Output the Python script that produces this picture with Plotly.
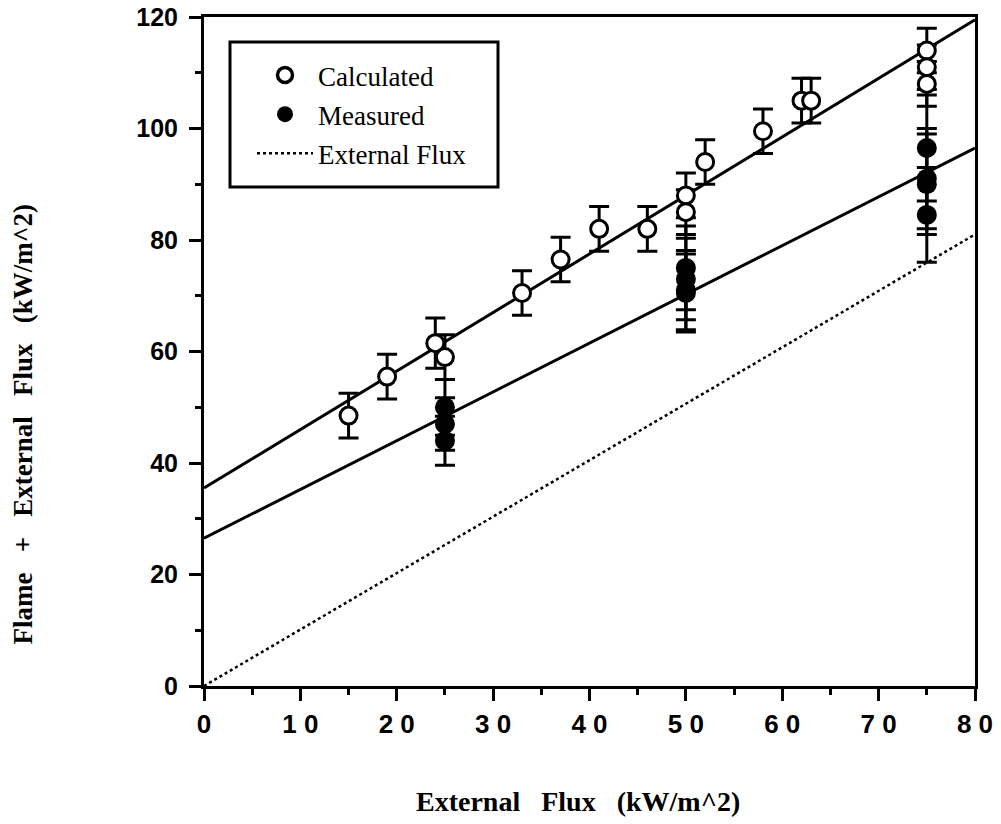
import plotly.graph_objects as go

# Calculated (open circles)
calc_x = [15, 19, 24, 25, 33, 37, 41, 46, 50, 50, 52, 58, 62, 63, 75, 75, 75]
calc_y = [48.5, 55.5, 61.5, 59, 70.5, 76.5, 82, 82, 88, 85, 94, 99.5, 105, 105, 114, 111, 108]
calc_err = [4, 4, 4.5, 4, 4, 4, 4, 4, 4, 4, 4, 4, 4, 4, 4, 4, 4]

# Measured (filled circles)
meas_x = [25, 25, 25, 50, 50, 50, 50, 75, 75, 75, 75]
meas_y = [50, 47, 44, 75, 73, 71, 70.5, 96.5, 91, 90, 84.5]
meas_err = [5, 4.7, 4.4, 7.5, 7.3, 7.1, 7, 9.5, 9, 9, 8.5]

# Fit lines (endpoints)
fit_x = [0, 80]
calc_fit_y = [35.5, 119.5]
meas_fit_y = [26.5, 96.5]
ext_x = [0, 80]
ext_y = [0, 81]

xtick_vals = [0, 10, 20, 30, 40, 50, 60, 70, 80]
xtick_text = ["0", "1 0", "2 0", "3 0", "4 0", "5 0", "6 0", "7 0", "8 0"]
ytick_vals = [0, 20, 40, 60, 80, 100, 120]

fig = go.Figure()

fig.add_trace(go.Scatter(x=ext_x, y=ext_y, mode="lines",
                         line=dict(color="black", width=2.5, dash="dot"), showlegend=False))
fig.add_trace(go.Scatter(x=fit_x, y=calc_fit_y, mode="lines",
                         line=dict(color="black", width=3), showlegend=False))
fig.add_trace(go.Scatter(x=fit_x, y=meas_fit_y, mode="lines",
                         line=dict(color="black", width=3), showlegend=False))

fig.add_trace(go.Scatter(x=meas_x, y=meas_y, mode="markers", showlegend=False,
                         marker=dict(symbol="circle", size=20, color="black"),
                         error_y=dict(type="data", array=meas_err, color="black",
                                      thickness=3, width=10)))
fig.add_trace(go.Scatter(x=calc_x, y=calc_y, mode="markers", showlegend=False,
                         marker=dict(symbol="circle", size=17, color="white",
                                     line=dict(color="black", width=3)),
                         error_y=dict(type="data", array=calc_err, color="black",
                                      thickness=3, width=10)))

# legend entries
fig.add_trace(go.Scatter(x=[None], y=[None], mode="markers", name="Calculated",
                         legendgroup="a",
                         marker=dict(symbol="circle-open", size=15, color="black",
                                     line=dict(width=3.5))))
fig.add_trace(go.Scatter(x=[None], y=[None], mode="markers", name="Measured",
                         legendgroup="b",
                         marker=dict(symbol="circle", size=19, color="black")))
fig.add_trace(go.Scatter(x=[None], y=[None], mode="lines", name="External Flux",
                         legendgroup="c",
                         line=dict(color="black", width=2.5, dash="dot")))

axis_common = dict(showline=True, linecolor="black", linewidth=3, mirror=True,
                   showgrid=False, zeroline=False, ticks="outside", tickcolor="black",
                   tickwidth=3, ticklen=12, automargin=False)

fig.update_xaxes(range=[0, 80], tickvals=xtick_vals, ticktext=xtick_text,
                 tickfont=dict(family="Liberation Sans", size=26, color="black",
                               weight="bold"),
                 ticklabelstandoff=1,
                 minor=dict(dtick=5, ticks="outside", ticklen=6, tickwidth=3,
                            tickcolor="black"),
                 **axis_common)
fig.update_yaxes(range=[0, 120], tickvals=ytick_vals,
                 tickfont=dict(family="Liberation Sans", size=25, color="black",
                               weight="bold"),
                 ticklabelstandoff=6,
                 minor=dict(dtick=10, ticks="outside", ticklen=6, tickwidth=3,
                            tickcolor="black"),
                 **axis_common)

fig.add_annotation(text="External   Flux   (kW/m^2)", xref="paper", yref="paper",
                   x=0.485, y=-0.173, xanchor="center", yanchor="middle",
                   showarrow=False,
                   font=dict(family="Liberation Serif", size=28, color="black",
                             weight="bold"))
fig.add_annotation(text="Flame   +   External   Flux   (kW/m^2)", xref="paper", yref="paper",
                   x=-0.235, y=0.392, xanchor="center", yanchor="middle",
                   textangle=-90, showarrow=False,
                   font=dict(family="Liberation Serif", size=27, color="black",
                             weight="bold"))

# legend frame
fig.add_shape(type="rect", xref="paper", yref="paper",
              x0=(230 - 204) / 771, x1=(498 - 204) / 771,
              y0=(686 - 187) / 669, y1=(686 - 42) / 669,
              line=dict(color="black", width=3), fillcolor="white", layer="below")

fig.update_layout(
    width=1001, height=824,
    margin=dict(l=204, r=26, t=17, b=138),
    paper_bgcolor="white", plot_bgcolor="white",
    legend=dict(x=(252 - 204) / 771, y=(686 - 51) / 669, xanchor="left", yanchor="top",
                bgcolor="rgba(0,0,0,0)", borderwidth=0,
                font=dict(family="Liberation Serif", size=27, color="black"),
                itemwidth=56, tracegroupgap=1),
)

fig.write_html("out.html")
